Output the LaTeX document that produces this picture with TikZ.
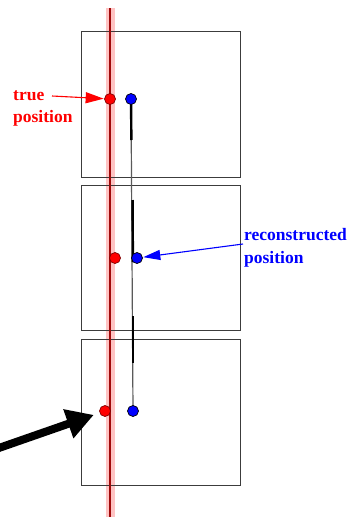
\documentclass[tikz,border=0pt]{standalone}
\usepackage{fontspec}
\setmainfont{Liberation Serif}
\usetikzlibrary{arrows.meta}
\definecolor{bandpink}{RGB}{255,195,195}
\definecolor{darkred}{RGB}{160,10,10}
\definecolor{trackgray}{RGB}{90,90,90}
\definecolor{framegray}{RGB}{60,60,60}
\begin{document}
\begin{tikzpicture}[x=1pt,y=-1pt,
  frame/.style={draw=framegray, line width=0.9pt},
  reddot/.style={circle, fill=red, draw=red!50!black, line width=0.7pt, minimum size=11pt, inner sep=0pt},
  bluedot/.style={circle, fill=blue, draw=black, line width=0.7pt, minimum size=11pt, inner sep=0pt},
  lbl/.style={font=\fontsize{17.5}{21}\selectfont\bfseries, inner sep=0pt, anchor=base west},
  thintrack/.style={draw=trackgray, line width=1.2pt},
  thicktrack/.style={draw=black, line width=2.4pt},
  redarrow/.style={draw=red, line width=1.1pt, -{Triangle[length=18pt,width=11pt]}},
  bluearrow/.style={draw=blue, line width=1.1pt, -{Triangle[length=17pt,width=10pt]}},
  bigarrow/.style={draw=black, line width=8pt, -{Triangle[length=27pt,width=29pt]}},
]
\useasboundingbox (0,0) rectangle (347,517);

% true particle trajectory band
\fill[bandpink] (105.5,8) rectangle (114.5,517);

% detector planes
\draw[frame] (81,31) rectangle (240,177);
\draw[frame] (81,185) rectangle (240,330);
\draw[frame] (81,339) rectangle (240,485);

% true trajectory line
\draw[darkred, line width=2pt] (110,8) -- (110,517);

% reconstructed track (drawn beneath the dots)
\coordinate (t1) at (131,99);
\coordinate (t3) at (133,411);
\draw[thintrack] (t1) -- (t3);
\draw[thicktrack] (t1) -- (131.4,140);
\draw[thicktrack] (132.6,200) -- (132.9,262);
\draw[thicktrack] (133,316) -- (133,363);

% dots
\node[reddot] (r1) at (110,99) {};
\node[reddot] (r2) at (115,258) {};
\node[reddot] (r3) at (105,411) {};
\node[bluedot] (b1) at (t1) {};
\node[bluedot] (b2) at (137,258) {};
\node[bluedot] (b3) at (t3) {};

% labels
\node[lbl, text=red] (truelbl) at (13,100) {true};
\node[lbl, text=red] (truelbl2) at (13,122) {position};
\node[lbl, text=blue] (reclbl) at (244,240) {reconstructed};
\node[lbl, text=blue] (reclbl2) at (244,263) {position};

% arrows
\coordinate (tstart) at (52,96);
\draw[redarrow, shorten >=0.5pt] (tstart) -- (r1);
\coordinate (bstart) at (243,244);
\draw[bluearrow, shorten >=0.5pt] (bstart) -- (b2);
\coordinate (bigstart) at (-4,449);
\draw[bigarrow, shorten >=6pt] (bigstart) -- (r3);
\end{tikzpicture}
\end{document}
